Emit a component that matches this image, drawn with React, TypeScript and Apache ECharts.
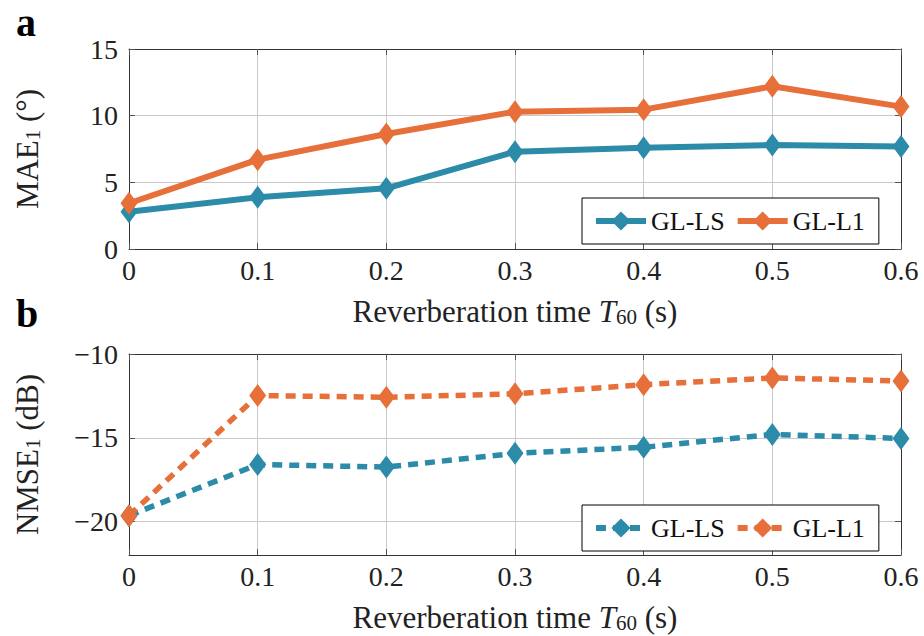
import React, { useEffect, useRef } from "react";
import * as echarts from "echarts";

const xValues = [0, 0.1, 0.2, 0.3, 0.4, 0.5, 0.6];
const maeGLLS = [2.8, 3.88, 4.55, 7.3, 7.6, 7.8, 7.68];
const maeGLL1 = [3.43, 6.7, 8.63, 10.3, 10.45, 12.2, 10.68];
const nmseGLLS = [-19.65, -16.6, -16.75, -15.93, -15.57, -14.8, -15.04];
const nmseGLL1 = [-19.65, -12.48, -12.58, -12.38, -11.83, -11.43, -11.61];
const seriesNames = ["GL-LS", "GL-L1"];
const maeTicks = [0, 5, 10, 15];
const nmseTicks = [-20, -15, -10];

const TEAL = "#2c8ba8";
const ORANGE = "#e76f3a";
const FONT = '"Liberation Serif", "DejaVu Serif", serif';
const AXIS_COLOR = "#333";
const GRID_COLOR = "#c9c9c9";

const pairs = (ys: number[]) => xValues.map((x, i) => [x, ys[i]]);
const fmtX = (v: number) => (Math.abs(v) < 1e-9 ? "0" : v.toFixed(1));
const fmtY = (v: number) => String(Math.round(v)).replace("-", "\u2212");

export default function App() {
  const ref = useRef<HTMLDivElement>(null);
  useEffect(() => {
    document.body.style.margin = "0";
    if (!ref.current) return;
    const chart = echarts.init(ref.current, undefined, { renderer: "svg" });

    const grids = [
      { left: 129, top: 49, width: 772, height: 200 },
      { left: 129, top: 354, width: 772, height: 201 },
    ];

    const xName = {
      name: "Reverberation time {it|T}{sub|60} (s)",
      nameLocation: "middle" as const,
      nameGap: 47,
      nameTextStyle: {
        fontFamily: FONT,
        fontSize: 31,
        color: "#222",
        rich: {
          it: { fontFamily: FONT, fontSize: 31, fontStyle: "italic", color: "#222" },
          sub: { fontFamily: FONT, fontSize: 21, color: "#222", verticalAlign: "bottom", lineHeight: 15 },
        },
      },
    };

    const mainX = (gi: number) => ({
      type: "value" as const,
      gridIndex: gi,
      min: 0,
      max: 0.6,
      interval: 0.1,
      ...xName,
      axisLine: { show: true, onZero: false, lineStyle: { color: AXIS_COLOR, width: 1 } },
      axisTick: { show: true, inside: true, length: 6, lineStyle: { color: "#555" } },
      axisLabel: { formatter: fmtX, fontFamily: FONT, fontSize: 28, color: "#222", margin: 7 },
      splitLine: { show: true, lineStyle: { color: GRID_COLOR, width: 1 } },
    });
    const mirrorX = (gi: number) => ({
      type: "value" as const,
      gridIndex: gi,
      position: "top" as const,
      min: 0,
      max: 0.6,
      interval: 0.1,
      axisLine: { show: true, onZero: false, lineStyle: { color: AXIS_COLOR, width: 1 } },
      axisTick: { show: true, inside: true, length: 6, lineStyle: { color: "#555" } },
      axisLabel: { show: false },
      splitLine: { show: false },
    });

    const yNameStyle = {
      fontFamily: FONT,
      fontSize: 31,
      color: "#222",
      rich: {
        sub: { fontFamily: FONT, fontSize: 21, color: "#222", verticalAlign: "bottom", lineHeight: 15 },
      },
    };

    const mainY = (gi: number, min: number, max: number, ticks: number[], name: string) => ({
      type: "value" as const,
      gridIndex: gi,
      min,
      max,
      name,
      nameLocation: "middle" as const,
      nameRotate: 90,
      nameGap: 86,
      nameTextStyle: yNameStyle,
      axisLine: { show: true, onZero: false, lineStyle: { color: AXIS_COLOR, width: 1 } },
      axisTick: { show: true, inside: true, length: 6, customValues: ticks, lineStyle: { color: "#555" } },
      axisLabel: { customValues: ticks, formatter: fmtY, fontFamily: FONT, fontSize: 28, color: "#222", margin: 11 },
      splitLine: { show: true, lineStyle: { color: GRID_COLOR, width: 1 } },
    });
    const mirrorY = (gi: number, min: number, max: number, ticks: number[]) => ({
      type: "value" as const,
      gridIndex: gi,
      position: "right" as const,
      min,
      max,
      axisLine: { show: true, onZero: false, lineStyle: { color: AXIS_COLOR, width: 1 } },
      axisTick: { show: true, inside: true, length: 6, customValues: ticks, lineStyle: { color: "#555" } },
      axisLabel: { show: false },
      splitLine: { show: false },
    });

    const lineSeries = (name: string, data: number[], color: string, gi: number, dashed: boolean) => ({
      type: "line" as const,
      name,
      xAxisIndex: gi,
      yAxisIndex: gi,
      data: pairs(data),
      symbol: "diamond",
      symbolSize: [17, 23],
      showAllSymbol: true,
      itemStyle: { color },
      lineStyle: dashed
        ? { color, width: 5.5, type: [10, 7], cap: "butt" as const }
        : { color, width: 6 },
      z: 3,
    });

    const legendBase = {
      orient: "horizontal" as const,
      left: 582,
      itemWidth: 50,
      itemHeight: 24,
      itemGap: 10,
      padding: [10, 14, 10, 11],
      borderColor: "#000",
      borderWidth: 1,
      backgroundColor: "#fff",
      textStyle: { fontFamily: FONT, fontSize: 26, color: "#111" },
      lineStyle: { width: 6, type: "inherit" },
      selectedMode: false,
    };

    chart.setOption({
      animation: false,
      backgroundColor: "#fff",
      grid: grids,
      xAxis: [mainX(0), mainX(1), mirrorX(0), mirrorX(1)],
      yAxis: [
        mainY(0, 0, 15, maeTicks, "MAE{sub|1} (\u00b0)"),
        mainY(1, -22, -10, nmseTicks, "NMSE{sub|1} (dB)"),
        mirrorY(0, 0, 15, maeTicks),
        mirrorY(1, -22, -10, nmseTicks),
      ],
      legend: [
        { ...legendBase, top: 198, data: seriesNames },
        {
          ...legendBase,
          top: 505,
          data: seriesNames.map((n) => "b:" + n),
          formatter: (n: string) => n.replace("b:", ""),
        },
      ],
      graphic: [
        { type: "text", left: 16, top: 2, style: { text: "a", font: `bold 40px ${FONT}`, fill: "#000" } },
        { type: "text", left: 16, top: 293, style: { text: "b", font: `bold 40px ${FONT}`, fill: "#000" } },
      ],
      series: [
        lineSeries("GL-LS", maeGLLS, TEAL, 0, false),
        lineSeries("GL-L1", maeGLL1, ORANGE, 0, false),
        lineSeries("b:GL-LS", nmseGLLS, TEAL, 1, true),
        lineSeries("b:GL-L1", nmseGLL1, ORANGE, 1, true),
      ],
    });
    return () => chart.dispose();
  }, []);
  return <div ref={ref} style={{ width: 924, height: 636 }} />;
}
